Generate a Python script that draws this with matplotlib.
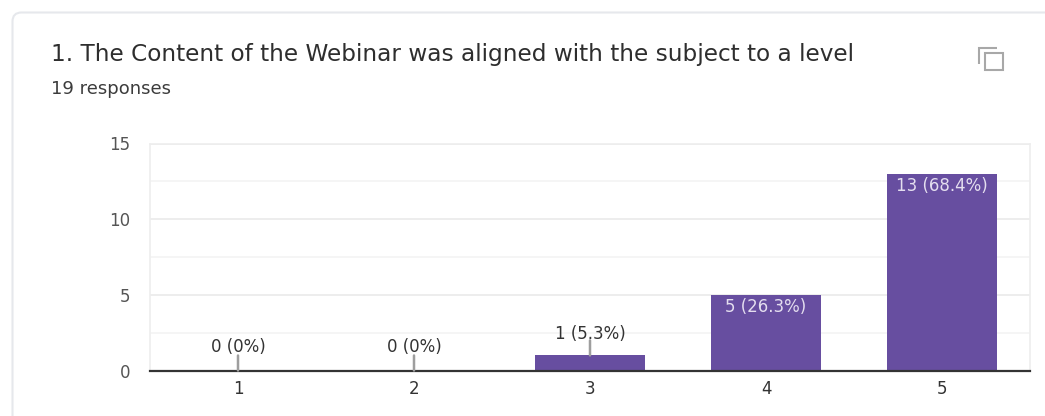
import matplotlib
matplotlib.use('Agg')
import matplotlib.pyplot as plt
from matplotlib.patches import FancyBboxPatch, Rectangle

categories = ['1', '2', '3', '4', '5']
counts = [0, 0, 1, 5, 13]
labels = ['0 (0%)', '0 (0%)', '1 (5.3%)', '5 (26.3%)', '13 (68.4%)']
y_ticks = [0, 5, 10, 15]
minor_ticks = [2.5, 7.5, 12.5]

title = '1. The Content of the Webinar was aligned with the subject to a level'
subtitle = '19 responses'

W, H = 1045, 416
PURPLE = '#674ea0'

plt.rcParams['font.family'] = ['DejaVu Sans']

fig = plt.figure(figsize=(W/100, H/100), dpi=100)

# page layer in pixel coordinates: card, headings, copy icon
bg = fig.add_axes([0, 0, 1, 1])
bg.set_xlim(0, W)
bg.set_ylim(H, 0)
bg.axis('off')
bg.add_patch(FancyBboxPatch((12.5, 12.5), 1100, 500,
                            boxstyle='round,pad=0,rounding_size=9',
                            fc='white', ec='#e6e8ec', lw=1.5))
bg.text(51, 54, title, fontsize=16.7, color='#2e2e2e',
        va='center', ha='left')
bg.text(51, 89, subtitle, fontsize=13, color='#3c3c3c',
        va='center', ha='left')
bg.plot([979, 979, 997], [64, 48, 48], color='#a8a8a8', lw=1.5,
        solid_capstyle='butt', solid_joinstyle='miter')
bg.add_patch(Rectangle((985, 53), 18, 16.5, fc='white', ec='#a8a8a8', lw=1.5))

# chart
left, right, top, bottom = 150, 1030, 143.5, 370.5
ax = fig.add_axes([left/W, 1 - bottom/H, (right - left)/W, (bottom - top)/H])
ax.patch.set_alpha(0)
x = list(range(len(categories)))
ax.set_xlim(-0.5, 4.5)
ax.set_ylim(0, 15)

ax.bar(x, counts, width=0.63, color=PURPLE, zorder=3)

ax.set_yticks(y_ticks)
ax.set_yticks(minor_ticks, minor=True)
ax.grid(True, axis='y', which='major', color='#ededed', lw=1.4, zorder=0)
ax.grid(True, axis='y', which='minor', color='#f5f5f5', lw=1.4, zorder=0)
ax.set_xticks(x, categories)
ax.tick_params(axis='both', which='both', length=0)
ax.tick_params(axis='y', pad=14, labelsize=12, labelcolor='#555555')
ax.tick_params(axis='x', pad=7, labelsize=12, labelcolor='#333333')

for side in ['top', 'left', 'right']:
    ax.spines[side].set_color('#eeeeee')
    ax.spines[side].set_linewidth(1.2)
ax.spines['bottom'].set_color('#333333')
ax.spines['bottom'].set_linewidth(1.6)
ax.spines['bottom'].set_zorder(4)

# small bars get a leader line and a label above, tall ones a label inside
for i, (v, lab) in enumerate(zip(counts, labels)):
    if v < 5:
        gap = 24 if v == 0 else 21
        ax.annotate('', xy=(i, v), xytext=(0, 15), textcoords='offset pixels',
                    arrowprops=dict(arrowstyle='-', color='#9e9e9e', lw=1.8,
                                    shrinkA=0, shrinkB=0), zorder=5)
        ax.annotate(lab, xy=(i, v), xytext=(0, gap), textcoords='offset pixels',
                    ha='center', va='center', fontsize=12, color='#333333',
                    zorder=5)
    else:
        ax.annotate(lab, xy=(i, v), xytext=(0, -12), textcoords='offset pixels',
                    ha='center', va='center', fontsize=12, color='#e4deef',
                    zorder=5)

fig.savefig('out.png', dpi=100)
